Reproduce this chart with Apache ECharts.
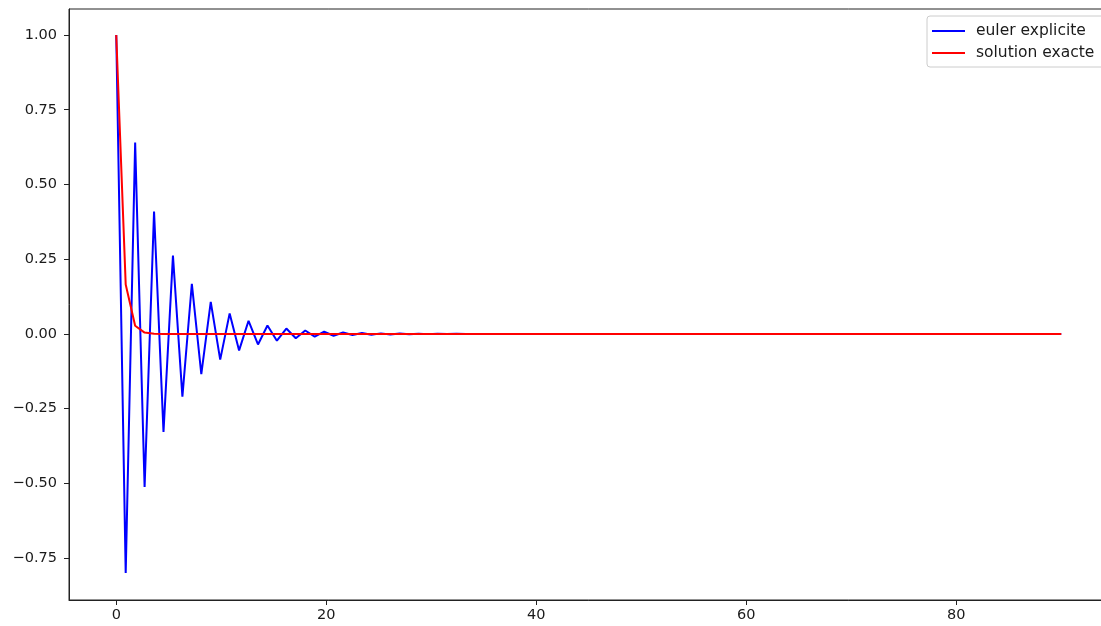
<!DOCTYPE html>
<html>
<head>
<meta charset="utf-8">
<script src="https://cdn.jsdelivr.net/npm/echarts@6/dist/echarts.min.js"></script>
<style>
  html, body { margin: 0; padding: 0; background: #fff; overflow: hidden; }
  /* the plot area runs a few pixels past the right edge of the window */
  #chart { width: 1110px; height: 626px; }
</style>
</head>
<body>
<div id="chart"></div>
<script>
// Time grid (step 0.9 from 0 to 90)
const times = [
  0, 0.9, 1.8, 2.7, 3.6, 4.5, 5.4, 6.3, 7.2, 8.1, 9, 9.9, 10.8, 11.7, 12.6, 13.5, 14.4, 15.3, 16.2, 17.1,
  18, 18.9, 19.8, 20.7, 21.6, 22.5, 23.4, 24.3, 25.2, 26.1, 27, 27.9, 28.8, 29.7, 30.6, 31.5, 32.4, 33.3, 34.2, 35.1,
  36, 36.9, 37.8, 38.7, 39.6, 40.5, 41.4, 42.3, 43.2, 44.1, 45, 45.9, 46.8, 47.7, 48.6, 49.5, 50.4, 51.3, 52.2, 53.1,
  54, 54.9, 55.8, 56.7, 57.6, 58.5, 59.4, 60.3, 61.2, 62.1, 63, 63.9, 64.8, 65.7, 66.6, 67.5, 68.4, 69.3, 70.2, 71.1,
  72, 72.9, 73.8, 74.7, 75.6, 76.5, 77.4, 78.3, 79.2, 80.1, 81, 81.9, 82.8, 83.7, 84.6, 85.5, 86.4, 87.3, 88.2, 89.1,
  90
];

// Explicit Euler iterates
const eulerValues = [
  1, -0.8, 0.64, -0.512, 0.4096, -0.3277, 0.2621, -0.2097, 0.1678, -0.1342,
  0.1074, -0.0859, 0.0687, -0.055, 0.044, -0.0352, 0.0281, -0.0225, 0.018, -0.0144,
  0.0115, -0.0092, 0.0074, -0.0059, 0.0047, -0.0038, 0.003, -0.0024, 0.0019, -0.0015,
  0.0012, -0.001, 0.0008, -0.0006, 0.0005, -0.0004, 0.0003, -0.0003, 0.0002, -0.0002,
  0.0001, 0, 0, 0, 0, 0, 0, 0, 0, 0,
  0, 0, 0, 0, 0, 0, 0, 0, 0, 0,
  0, 0, 0, 0, 0, 0, 0, 0, 0, 0,
  0, 0, 0, 0, 0, 0, 0, 0, 0, 0,
  0, 0, 0, 0, 0, 0, 0, 0, 0, 0,
  0, 0, 0, 0, 0, 0, 0, 0, 0, 0,
  0
];

// Exact solution at the same times
const exactValues = [
  1, 0.1653, 0.0273, 0.0045, 0.0007, 0.0001, 0, 0, 0, 0,
  0, 0, 0, 0, 0, 0, 0, 0, 0, 0,
  0, 0, 0, 0, 0, 0, 0, 0, 0, 0,
  0, 0, 0, 0, 0, 0, 0, 0, 0, 0,
  0, 0, 0, 0, 0, 0, 0, 0, 0, 0,
  0, 0, 0, 0, 0, 0, 0, 0, 0, 0,
  0, 0, 0, 0, 0, 0, 0, 0, 0, 0,
  0, 0, 0, 0, 0, 0, 0, 0, 0, 0,
  0, 0, 0, 0, 0, 0, 0, 0, 0, 0,
  0, 0, 0, 0, 0, 0, 0, 0, 0, 0,
  0
];

const xTicks = [0, 20, 40, 60, 80];
const yTicks = [-0.75, -0.5, -0.25, 0, 0.25, 0.5, 0.75, 1.0];

const seriesNames = ['euler explicite', 'solution exacte'];

const font = 'DejaVu Sans';
const fmtY = v => Number(v).toFixed(2).replace('-', '\u2212');

const chart = echarts.init(document.getElementById('chart'), null, { renderer: 'canvas' });

chart.setOption({
  animation: false,
  backgroundColor: '#ffffff',
  grid: {
    left: 69, top: 9, bottom: 26, right: 1.5,
    outerBoundsMode: 'none',
    show: true, borderColor: '#222', borderWidth: 1, backgroundColor: 'transparent'
  },
  legend: {
    orient: 'vertical',
    left: 927, top: 16,
    padding: [7, 13, 6, 5],
    icon: 'path://M0,0 L33,0 L33,2 L0,2 Z',
    itemWidth: 33, itemHeight: 2, itemGap: 6,
    backgroundColor: 'rgba(255,255,255,0.8)',
    borderColor: '#cccccc', borderWidth: 1, borderRadius: 3,
    textStyle: { fontFamily: font, fontSize: 15.5, color: '#1a1a1a', padding: [0, 0, 0, 6], lineHeight: 14 },
    data: seriesNames
  },
  xAxis: {
    type: 'value',
    min: -4.5, max: 94.5,
    splitLine: { show: false },
    axisLine: { show: true, onZero: false, lineStyle: { color: '#222', width: 1 } },
    axisTick: { show: true, length: 5, lineStyle: { color: '#222' }, customValues: xTicks },
    axisLabel: { fontFamily: font, fontSize: 14.5, color: '#1a1a1a', margin: 8, customValues: xTicks }
  },
  yAxis: {
    type: 'value',
    min: -0.89, max: 1.087,
    splitLine: { show: false },
    axisLine: { show: true, onZero: false, lineStyle: { color: '#222', width: 1 } },
    axisTick: { show: true, length: 5, lineStyle: { color: '#222' }, customValues: yTicks },
    axisLabel: { fontFamily: font, fontSize: 14.5, color: '#1a1a1a', margin: 12, customValues: yTicks, formatter: fmtY }
  },
  series: [
    {
      name: seriesNames[0],
      type: 'line',
      symbol: 'none',
      data: times.map((t, i) => [t, eulerValues[i]]),
      lineStyle: { color: '#0000ff', width: 2 },
      itemStyle: { color: '#0000ff' }
    },
    {
      name: seriesNames[1],
      type: 'line',
      symbol: 'none',
      data: times.map((t, i) => [t, exactValues[i]]),
      lineStyle: { color: '#ff0000', width: 2 },
      itemStyle: { color: '#ff0000' }
    }
  ]
});
</script>
</body>
</html>
